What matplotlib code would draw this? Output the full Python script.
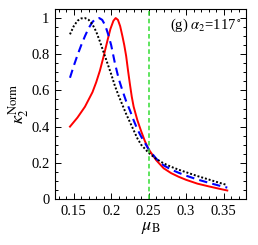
import numpy as np
import matplotlib
matplotlib.use("Agg")
import matplotlib.pyplot as plt
from matplotlib.ticker import MultipleLocator

# values
mu_red = [0.145, 0.155, 0.165, 0.175, 0.18, 0.185, 0.19, 0.195, 0.199, 0.203, 0.206,
          0.209, 0.212, 0.215, 0.2175, 0.22, 0.2225, 0.225, 0.2275, 0.23, 0.235,
          0.24, 0.245, 0.25, 0.26, 0.27, 0.28, 0.29, 0.30, 0.315, 0.33, 0.345, 0.355]
k_red = [0.40, 0.45, 0.51, 0.59, 0.645, 0.71, 0.79, 0.875, 0.94, 0.985, 1.0,
         0.99, 0.955, 0.90, 0.85, 0.79, 0.71, 0.635, 0.565, 0.51, 0.435,
         0.375, 0.32, 0.275, 0.215, 0.17, 0.143, 0.123, 0.106, 0.085, 0.07, 0.056, 0.047]

mu_blue = [0.145, 0.15, 0.155, 0.16, 0.165, 0.17, 0.175, 0.179, 0.184, 0.188, 0.192,
           0.196, 0.2, 0.205, 0.21, 0.215, 0.22, 0.225, 0.23, 0.235, 0.24, 0.25, 0.26,
           0.27, 0.28, 0.29, 0.30, 0.315, 0.33, 0.345, 0.355]
k_blue = [0.67, 0.735, 0.795, 0.85, 0.90, 0.945, 0.978, 0.995, 1.0, 0.99, 0.96,
          0.91, 0.85, 0.75, 0.665, 0.60, 0.54, 0.49, 0.435, 0.385, 0.345, 0.275, 0.223,
          0.186, 0.163, 0.145, 0.129, 0.108, 0.09, 0.073, 0.063]

mu_black = [0.145, 0.15, 0.155, 0.16, 0.165, 0.17, 0.175, 0.18, 0.185, 0.19, 0.195,
            0.2, 0.205, 0.21, 0.215, 0.22, 0.225, 0.23, 0.235, 0.24, 0.25, 0.26,
            0.27, 0.28, 0.29, 0.30, 0.315, 0.33, 0.345, 0.355]
k_black = [0.91, 0.955, 0.985, 0.998, 1.0, 0.99, 0.965, 0.925, 0.87, 0.81, 0.75,
           0.69, 0.625, 0.57, 0.52, 0.47, 0.425, 0.38, 0.335, 0.30, 0.255, 0.222,
           0.197, 0.178, 0.162, 0.148, 0.127, 0.108, 0.089, 0.077]

mu_mark = 0.25

plt.rcParams['font.family'] = ['Liberation Serif', 'DejaVu Serif']
plt.rcParams['mathtext.fontset'] = 'stix'
plt.rcParams['font.size'] = 10.5

fig = plt.figure(figsize=(2.58, 2.45), dpi=100)
ax = fig.add_axes([55/258, 1 - 199/245, (246 - 55)/258, (199 - 9)/245])

ax.plot(mu_red, k_red, color='red', lw=1.4, ls='-')
ax.plot(mu_blue, k_blue, color='blue', lw=1.5, ls=(0, (4, 2.5)))
ax.plot(mu_black, k_black, color='black', lw=1.4, ls=(0, (1, 1)))
ax.axvline(mu_mark, color='#33dd33', lw=1.1, ls=(0, (3, 2)))

ax.set_xlim(0.125, 0.38)
ax.set_ylim(0, 1.05)
ax.xaxis.set_minor_locator(MultipleLocator(0.01))
ax.yaxis.set_minor_locator(MultipleLocator(0.05))
ax.set_xticks([0.15, 0.2, 0.25, 0.3, 0.35], ['0.15', '0.2', '0.25', '0.3', '0.35'])
ax.set_yticks([0, 0.2, 0.4, 0.6, 0.8, 1.0], ['0', '0.2', '0.4', '0.6', '0.8', '1'])
ax.tick_params(which='both', direction='in', top=True, right=True, width=0.7)
ax.tick_params(which='major', length=4, labelsize=10.5, pad=4)
ax.tick_params(which='minor', length=2)
for s in ax.spines.values():
    s.set_linewidth(0.8)

ax.set_xlabel(r'$\mu_{\rm B}$', fontsize=13, labelpad=1)
ax.set_ylabel(r'$\kappa_2^{\rm Norm}$', fontsize=13, labelpad=0)
ax.text(0.975, 0.915, r'(g) $\alpha_2$=117$^\circ$', transform=ax.transAxes,
        ha='right', va='center', fontsize=10.5)

fig.savefig('out.png', dpi=100)
